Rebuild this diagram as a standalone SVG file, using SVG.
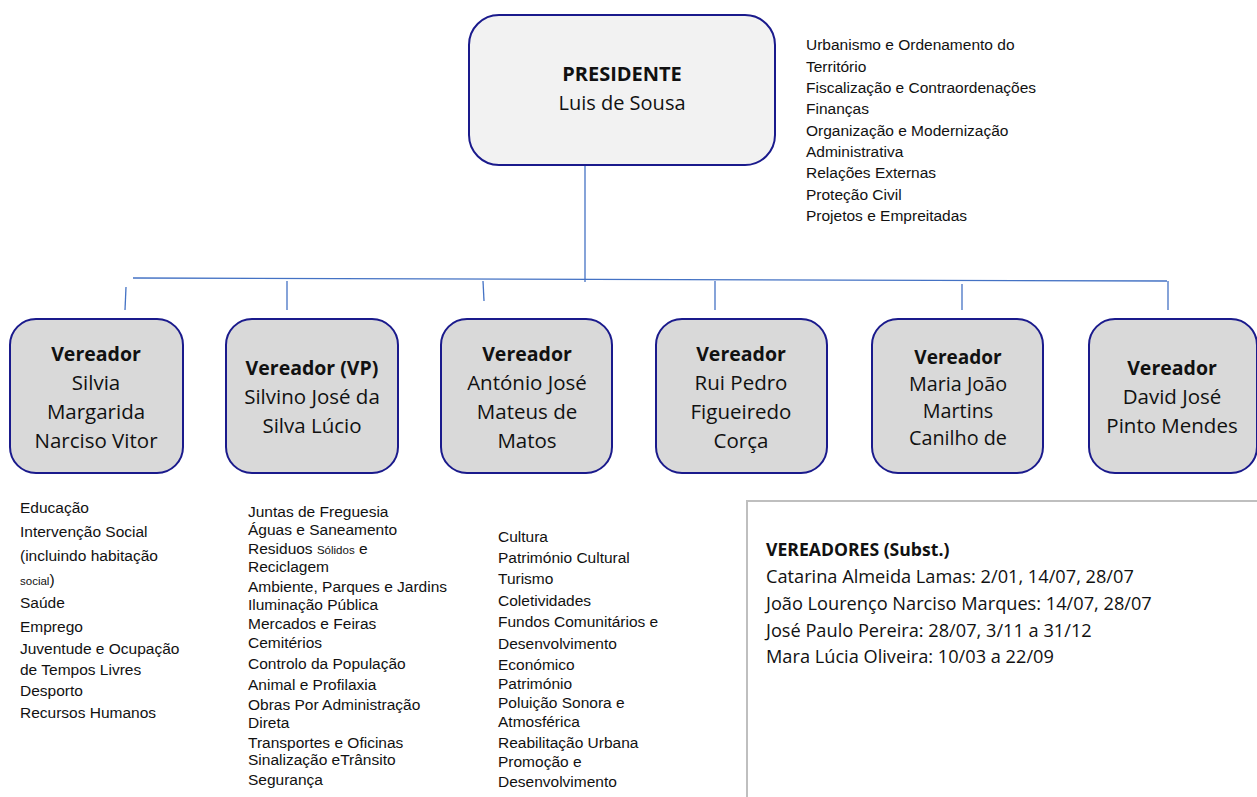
<svg xmlns="http://www.w3.org/2000/svg" width="1257" height="797" viewBox="0 0 1257 797">
<style>
text{font-family:"Open Sans",Lato,"Liberation Sans",sans-serif;fill:#111}
.pres{fill:#f2f2f2;stroke:#1a1a8c;stroke-width:2}
.ver{fill:#d9d9d9;stroke:#1a1a8c;stroke-width:2}
.nm{font-size:20.5px;text-anchor:middle}
.pn{font-size:20px;text-anchor:middle}
.b{font-weight:bold;font-size:19.5px}
.lst text{font-family:"Liberation Sans",Arial,sans-serif;font-size:15.5px}
.sm{font-size:11.5px}
.sub{font-size:18.2px}
.sb{font-weight:bold;font-size:17.6px}
.con line{stroke:#4472c4;stroke-width:1.3}
</style>
<rect width="1257" height="797" fill="#fff"/>
<g class="con" id="connectors">
<line x1="585" y1="165" x2="585" y2="282"/>
<line x1="133" y1="278" x2="1167" y2="281"/>
<line x1="126" y1="287" x2="125" y2="310"/>
<line x1="287" y1="281" x2="287" y2="310"/>
<line x1="483" y1="281" x2="484" y2="301"/>
<line x1="715" y1="281" x2="715" y2="310"/>
<line x1="962" y1="284" x2="962" y2="310"/>
<line x1="1168" y1="281" x2="1168" y2="310"/>
</g>
<g id="presidente">
<rect class="pres" x="469" y="15" width="306" height="150" rx="30"/>
<text class="pn b" x="622" y="81" style="font-size:20px">PRESIDENTE</text>
<text class="pn" x="622" y="110">Luis de Sousa</text>
</g>
<g id="pres-list" class="lst">
<text x="806" y="50">Urbanismo e Ordenamento do</text>
<text x="806" y="72">Território</text>
<text x="806" y="93">Fiscalização e Contraordenações</text>
<text x="806" y="114">Finanças</text>
<text x="806" y="136">Organização e Modernização</text>
<text x="806" y="157">Administrativa</text>
<text x="806" y="178">Relações Externas</text>
<text x="806" y="200">Proteção Civil</text>
<text x="806" y="221">Projetos e Empreitadas</text>
</g>
<g id="v1">
<rect class="ver" x="10" y="319" width="173" height="154" rx="26"/>
<text class="nm b" x="96" y="361">Vereador</text>
<text class="nm" x="96" y="390">Silvia</text>
<text class="nm" x="96" y="419">Margarida</text>
<text class="nm" x="96" y="448">Narciso Vitor</text>
</g>
<g id="v2">
<rect class="ver" x="226" y="319" width="172" height="154" rx="26"/>
<text class="nm b" x="312" y="375">Vereador (VP)</text>
<text class="nm" x="312" y="404">Silvino José da</text>
<text class="nm" x="312" y="433">Silva Lúcio</text>
</g>
<g id="v3">
<rect class="ver" x="441" y="319" width="171" height="154" rx="26"/>
<text class="nm b" x="527" y="361">Vereador</text>
<text class="nm" x="527" y="390">António José</text>
<text class="nm" x="527" y="419">Mateus de</text>
<text class="nm" x="527" y="448">Matos</text>
</g>
<g id="v4">
<rect class="ver" x="656" y="319" width="171" height="154" rx="26"/>
<text class="nm b" x="741" y="361">Vereador</text>
<text class="nm" x="741" y="390">Rui Pedro</text>
<text class="nm" x="741" y="419">Figueiredo</text>
<text class="nm" x="741" y="448">Corça</text>
</g>
<g id="v5">
<rect class="ver" x="872" y="319" width="171" height="154" rx="26"/>
<text class="nm b" x="958" y="364" style="font-size:19px">Vereador</text>
<text class="nm" x="958" y="391" style="font-size:19.8px">Maria João</text>
<text class="nm" x="958" y="418" style="font-size:19.8px">Martins</text>
<text class="nm" x="958" y="445" style="font-size:19.8px">Canilho de</text>
</g>
<g id="v6">
<rect class="ver" x="1089" y="319" width="168" height="154" rx="26"/>
<text class="nm b" x="1172" y="375">Vereador</text>
<text class="nm" x="1172" y="404">David José</text>
<text class="nm" x="1172" y="433">Pinto Mendes</text>
</g>
<g id="list1" class="lst">
<text x="20" y="513">Educação</text>
<text x="20" y="537">Intervenção Social</text>
<text x="20" y="561">(incluindo habitação</text>
<text x="20" y="585"><tspan class="sm">social</tspan>)</text>
<text x="20" y="608">Saúde</text>
<text x="20" y="632">Emprego</text>
<text x="20" y="654">Juventude e Ocupação</text>
<text x="20" y="675">de Tempos Livres</text>
<text x="20" y="696">Desporto</text>
<text x="20" y="718">Recursos Humanos</text>
</g>
<g id="list2" class="lst">
<text x="248" y="517">Juntas de Freguesia</text>
<text x="248" y="535">Águas e Saneamento</text>
<text x="248" y="554">Residuos <tspan class="sm">Sólidos</tspan> e</text>
<text x="248" y="572">Reciclagem</text>
<text x="248" y="592">Ambiente, Parques e Jardins</text>
<text x="248" y="610">Iluminação Pública</text>
<text x="248" y="629">Mercados e Feiras</text>
<text x="248" y="648">Cemitérios</text>
<text x="248" y="669">Controlo da População</text>
<text x="248" y="690">Animal e Profilaxia</text>
<text x="248" y="710">Obras Por Administração</text>
<text x="248" y="728">Direta</text>
<text x="248" y="748">Transportes e Oficinas</text>
<text x="248" y="765">Sinalização eTrânsito</text>
<text x="248" y="785">Segurança</text>
</g>
<g id="list3" class="lst">
<text x="498" y="542">Cultura</text>
<text x="498" y="563">Património Cultural</text>
<text x="498" y="584">Turismo</text>
<text x="498" y="606">Coletividades</text>
<text x="498" y="627">Fundos Comunitários e</text>
<text x="498" y="649">Desenvolvimento</text>
<text x="498" y="670">Económico</text>
<text x="498" y="689">Património</text>
<text x="498" y="708">Poluição Sonora e</text>
<text x="498" y="727">Atmosférica</text>
<text x="498" y="748">Reabilitação Urbana</text>
<text x="498" y="767">Promoção e</text>
<text x="498" y="787">Desenvolvimento</text>
</g>
<g id="substitutos">
<path d="M747 798 V501 H1258" fill="none" stroke="#bfbfbf" stroke-width="2"/>
<text class="sb" x="766" y="556">VEREADORES (Subst.)</text>
<text class="sub" x="766" y="583">Catarina Almeida Lamas: 2/01, 14/07, 28/07</text>
<text class="sub" x="766" y="610">João Lourenço Narciso Marques: 14/07, 28/07</text>
<text class="sub" x="766" y="637">José Paulo Pereira: 28/07, 3/11 a 31/12</text>
<text class="sub" x="766" y="663">Mara Lúcia Oliveira: 10/03 a 22/09</text>
</g>
</svg>
